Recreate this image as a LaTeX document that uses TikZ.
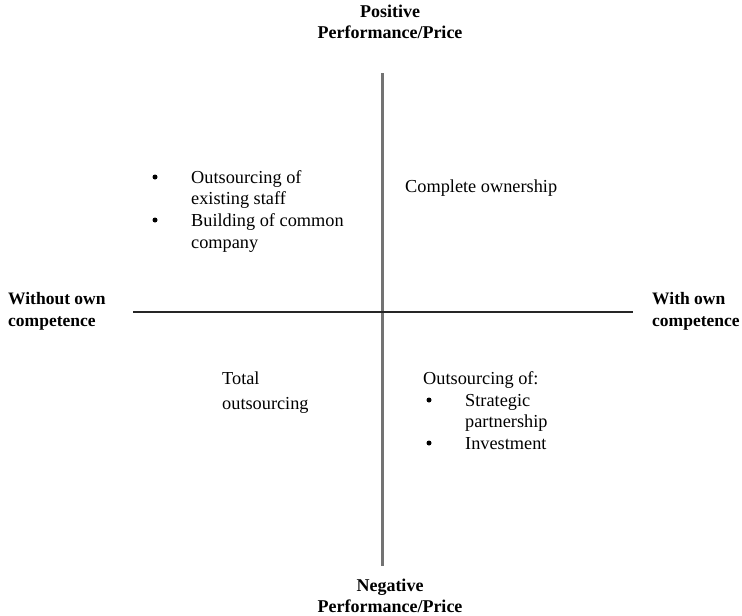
\documentclass[tikz,border=0pt]{standalone}
\usepackage{fontspec}
\setmainfont{Liberation Serif}
\begin{document}
\begin{tikzpicture}[x=1pt,y=-1pt,
  axislabel/.style={font=\bfseries\fontsize{18}{21}\selectfont, align=center, inner sep=0pt},
  sidelabel/.style={font=\bfseries\fontsize{17.5}{21}\selectfont, anchor=base west, inner sep=0pt},
  body/.style={font=\fontsize{18.3}{20}\selectfont, anchor=base west, inner sep=0pt},
  dot/.style={circle, fill=black, inner sep=0pt, minimum size=5pt},
  vaxis/.style={draw=black!55, line width=2.2pt},
  haxis/.style={draw=black!85, line width=1.3pt}]
\useasboundingbox (0,0) rectangle (742,616);

% axes
\coordinate (vtop) at (382.5,73);
\coordinate (vbot) at (382.5,566);
\coordinate (hl) at (133,312);
\coordinate (hr) at (633,312);
\draw[vaxis] (vtop) -- (vbot);
\draw[haxis] (hl) -- (hr);

% axis end labels
\node[axislabel] (pos) at (390,22) {Positive\\Performance/Price};
\node[axislabel] (neg) at (390,596) {Negative\\Performance/Price};
\node[sidelabel] (wo1) at (8,304) {Without own};
\node[sidelabel] (wo2) at (8,326) {competence};
\node[sidelabel] (wi1) at (652,304) {With own};
\node[sidelabel] (wi2) at (652,326) {competence};

% upper left quadrant
\node[dot]  (b1) at (155,177) {};
\node[body] (t1) at (191,183) {Outsourcing of};
\node[body] (t2) at (191,204) {existing staff};
\node[dot]  (b2) at (155,220) {};
\node[body] (t3) at (191,226) {Building of common};
\node[body] (t4) at (191,248) {company};

% upper right quadrant
\node[body] (own) at (405,192) {Complete ownership};

% lower left quadrant
\node[body] (tot1) at (222,384) {Total};
\node[body] (tot2) at (222,409) {outsourcing};

% lower right quadrant
\node[body] (o1) at (423,384) {Outsourcing of:};
\node[dot]  (b3) at (429,400) {};
\node[body] (o2) at (465,406) {Strategic};
\node[body] (o3) at (465,427) {partnership};
\node[dot]  (b4) at (429,443) {};
\node[body] (o4) at (465,449) {Investment};
\end{tikzpicture}
\end{document}
